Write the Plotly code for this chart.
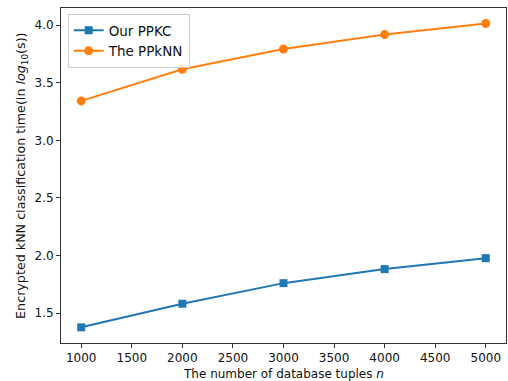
import plotly.graph_objects as go

n_values = [1000, 2000, 3000, 4000, 5000]
ppkc = [1.376, 1.581, 1.760, 1.882, 1.977]
ppknn = [3.343, 3.618, 3.794, 3.919, 4.015]
x_ticks = [1000, 1500, 2000, 2500, 3000, 3500, 4000, 4500, 5000]
y_ticks = [1.5, 2.0, 2.5, 3.0, 3.5, 4.0]

fig = go.Figure()
fig.add_trace(go.Scatter(x=n_values, y=ppkc, mode="lines+markers", name="Our PPKC",
                         line=dict(color="#1f77b4", width=2),
                         marker=dict(symbol="square", size=8, color="#1f77b4")))
fig.add_trace(go.Scatter(x=n_values, y=ppknn, mode="lines+markers", name="The PPkNN",
                         line=dict(color="#ff7f0e", width=2),
                         marker=dict(symbol="circle", size=9, color="#ff7f0e")))

font = "DejaVu Sans"
axis_common = dict(showgrid=False, zeroline=False, showline=True, linecolor="#333",
                   linewidth=1, mirror=True, ticks="outside", ticklen=4, tickwidth=1,
                   tickcolor="#333", automargin=False,
                   tickfont=dict(family=font, size=12, color="#111"))
fig.update_layout(
    width=508, height=381,
    margin=dict(l=61, r=2, t=8, b=38),
    plot_bgcolor="white", paper_bgcolor="white",
    font=dict(family=font, size=12, color="#111"),
    xaxis=dict(range=[800, 5200], tickvals=x_ticks, ticktext=[str(v) for v in x_ticks],
               **axis_common),
    yaxis=dict(range=[1.24, 4.15], tickvals=y_ticks, ticktext=[f"{v:.1f}" for v in y_ticks],
               **axis_common),
    legend=dict(x=0.015, y=0.982, xanchor="left", yanchor="top",
                bordercolor="#ccc", borderwidth=1, bgcolor="rgba(255,255,255,0.8)",
                font=dict(family=font, size=13.5), tracegroupgap=0),
    showlegend=True,
    annotations=[
        dict(text="The number of database tuples <i>n</i>", xref="paper", yref="paper",
             x=0.5, y=-0.093, xanchor="center", yanchor="middle", showarrow=False,
             font=dict(family=font, size=12, color="#111")),
        dict(text="Encrypted kNN classification time(in <i>log</i><sub>10</sub>(s))",
             xref="paper", yref="paper", x=-0.089, y=0.5, xanchor="center",
             yanchor="middle", textangle=-90, showarrow=False,
             font=dict(family=font, size=12.7, color="#111")),
    ],
)
fig.write_html("out.html",
               config={"displayModeBar": False},
               post_script="document.body.style.margin='0';document.body.style.padding='0';")
